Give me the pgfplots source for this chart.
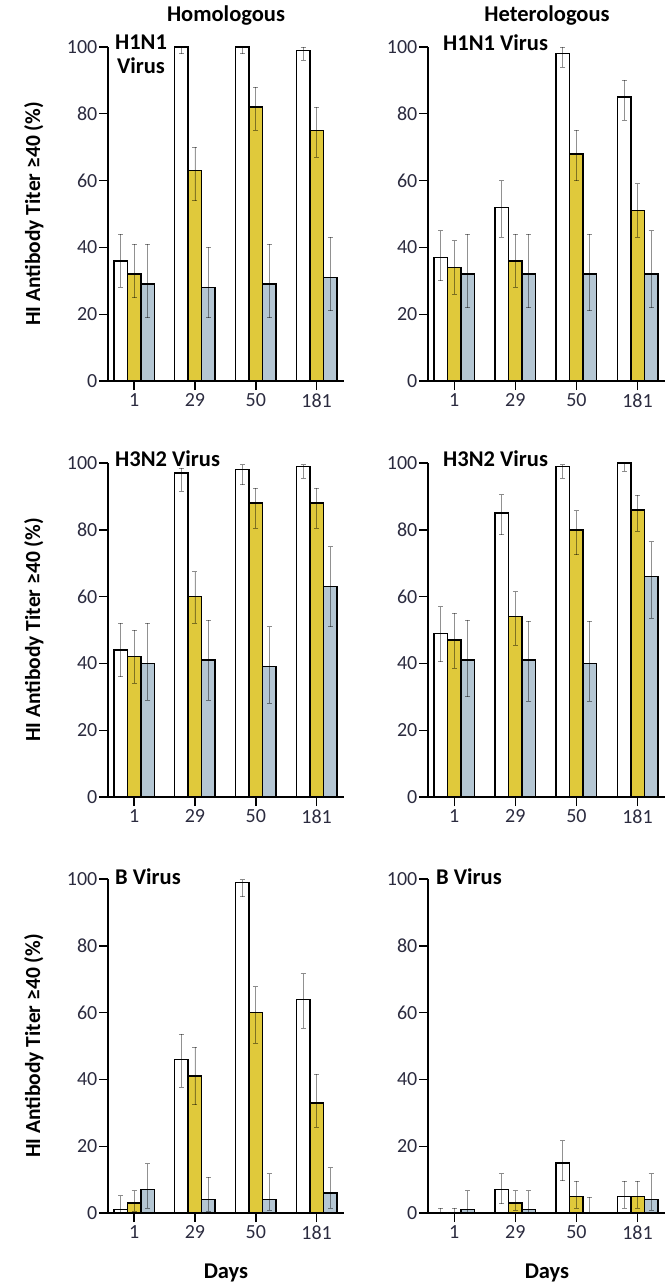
\documentclass[border=0pt]{standalone}
\usepackage{pgfplots}
\pgfplotsset{compat=1.18}
\usepackage{pgfplotstable}
\usepackage{fontspec}
\setmainfont{Carlito}
\definecolor{ylw}{HTML}{E0C93B}
\definecolor{blg}{HTML}{B4C6D3}
\definecolor{tcol}{HTML}{2B2B3F}

% columns: x, white (value, low, high), yellow (value, low, high), grey-blue (value, low, high)
\pgfplotstableread{
x w wl wh y yl yh g gl gh
0 36 28 44 32 25 41 29 19 41
1 100 98 100 63 54 70 28 19 40
2 100 98 100 82 75 88 29 19 41
3 99 96 100 75 67 82 31 21 43
}\homA
\pgfplotstableread{
x w wl wh y yl yh g gl gh
0 37 30 45 34 26 42 32 22 44
1 52 43 60 36 28 44 32 22 44
2 98 94 100 68 60 75 32 21 44
3 85 78 90 51 43 59 32 22 45
}\hetA
\pgfplotstableread{
x w wl wh y yl yh g gl gh
0 44 36 52 42 34 50 40 29 52
1 97 91.5 98.5 60 52 67.5 41 29 53
2 98 93.5 99.5 88 80.5 92.5 39 28 51
3 99 95.5 99.5 88 80.5 92.5 63 51 75
}\homB
\pgfplotstableread{
x w wl wh y yl yh g gl gh
0 49 40.5 57 47 38.5 55 41 30 53
1 85 78.5 90.5 54 45.5 61.5 41 28.6 52.6
2 99 95.5 99.5 80 72.5 85.7 40 28.6 52.6
3 100 97.5 100 86 79.6 90.4 66 53.5 76.4
}\hetB
\pgfplotstableread{
x w wl wh y yl yh g gl gh
0 1 0 5.2 3 0.5 6.7 7 1.5 14.8
1 46 37.6 53.6 41 32.4 49.6 4 0.5 10.7
2 99 94.7 99.8 60 50.8 67.7 4 0.8 11.7
3 64 55.4 71.6 33 25.7 41.6 6 1.5 13.6
}\homC
\pgfplotstableread{
x w wl wh y yl yh g gl gh
0 0 0 1.5 0 0 1.5 1 0 6.7
1 7 2.8 11.7 3 0.8 6.7 1 0 6.7
2 15 9.7 21.6 5 1.5 9.5 0 0 4.7
3 5 1.5 9.5 5 1.5 9.5 4 0.8 11.7
}\hetC

\pgfplotsset{
  panel/.style={
    scale only axis, height=334pt,
    xmin=-0.43, xmax=3.45, ymin=0, ymax=100,
    axis x line*=bottom, axis y line*=left,
    axis line style={line width=1.4pt, black},
    ytick={0,20,40,60,80,100},
    xtick={0,1,2,3}, xticklabels={1,29,50,181},
    tick align=outside, major tick length=9pt,
    tick style={line width=1.4pt, black},
    ticklabel style={font=\fontsize{20}{24}\selectfont, text=tcol},
    yticklabel style={inner sep=1.5pt},
    /pgf/number format/assume math mode=true,
    ybar=0pt, bar width=13.5pt,
    clip=false,
    ylabel style={at={(axis description cs:-0.314,0.5)}, anchor=center,
      font=\bfseries\fontsize{21.5}{25}\selectfont},
  },
  eb/.style={
    error bars/y dir=both, error bars/y explicit,
    error bars/error bar style={line width=0.9pt, black, opacity=0.4},
    error bars/error mark options={rotate=90, mark size=2.5pt, line width=0.9pt, black, opacity=0.45},
  },
}

\newcommand{\bars}[1]{%
  \addplot[fill=white, draw=black, line width=1.5pt, eb]
    table[x=x, y=w, y error plus expr=\thisrow{wh}-\thisrow{w}, y error minus expr=\thisrow{w}-\thisrow{wl}] {#1};
  \addplot[fill=ylw, draw=black, line width=1.5pt, eb]
    table[x=x, y=y, y error plus expr=\thisrow{yh}-\thisrow{y}, y error minus expr=\thisrow{y}-\thisrow{yl}] {#1};
  \addplot[fill=blg, draw=black, line width=1.5pt, eb]
    table[x=x, y=g, y error plus expr=\thisrow{gh}-\thisrow{g}, y error minus expr=\thisrow{g}-\thisrow{gl}] {#1};
}

\begin{document}
\begin{tikzpicture}
\useasboundingbox (0,0) rectangle (671pt,-1284pt);

% Row 1
\begin{axis}[panel, width=236pt, at={(108pt,-381pt)}, anchor=south west,
  ylabel={HI Antibody Titer ≥40 (\%)}]
\bars{\homA}
\end{axis}
\begin{axis}[panel, width=237pt, at={(428pt,-381pt)}, anchor=south west]
\bars{\hetA}
\end{axis}

% Row 2
\begin{axis}[panel, width=236pt, at={(108pt,-797pt)}, anchor=south west,
  ylabel={HI Antibody Titer ≥40 (\%)}]
\bars{\homB}
\end{axis}
\begin{axis}[panel, width=237pt, at={(428pt,-797pt)}, anchor=south west]
\bars{\hetB}
\end{axis}

% Row 3
\begin{axis}[panel, width=236pt, at={(108pt,-1213pt)}, anchor=south west,
  ylabel={HI Antibody Titer ≥40 (\%)}]
\bars{\homC}
\end{axis}
\begin{axis}[panel, width=237pt, at={(428pt,-1213pt)}, anchor=south west]
\bars{\hetC}
\end{axis}

% Titles and labels
\begin{scope}[every node/.style={font=\bfseries\fontsize{22.5}{26}\selectfont, inner sep=0pt}]
\node at (226pt,-16pt) {Homologous};
\node at (547pt,-16pt) {Heterologous};
\node[align=center] at (141pt,-54pt) {H1N1\\[-2pt]Virus};
\node[anchor=west] at (443pt,-43pt) {H1N1 Virus};
\node[anchor=west] at (115pt,-459pt) {H3N2 Virus};
\node[anchor=west] at (443pt,-459pt) {H3N2 Virus};
\node[anchor=west] at (115pt,-877pt) {B Virus};
\node[anchor=west] at (436pt,-877pt) {B Virus};
\node at (226pt,-1273pt) {Days};
\node at (547pt,-1273pt) {Days};
\end{scope}
\end{tikzpicture}
\end{document}
